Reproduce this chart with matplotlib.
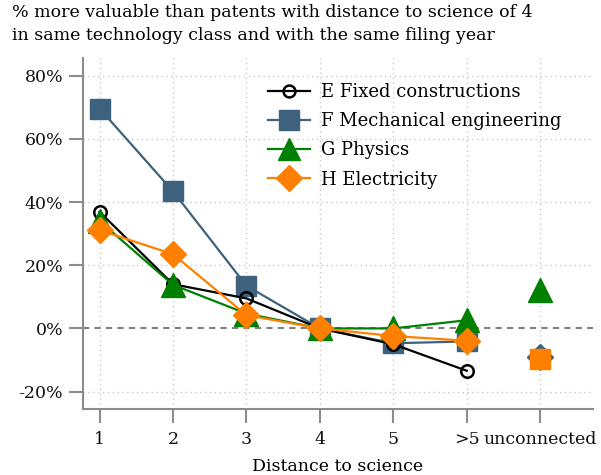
import matplotlib
matplotlib.use("Agg")
import matplotlib.pyplot as plt
from matplotlib.lines import Line2D

plt.rcParams['font.family'] = ['DejaVu Serif']

x_labels = ['1', '2', '3', '4', '5', '>5', 'unconnected']
x_conn = [1, 2, 3, 4, 5, 6]
x_unc = 7

series_names = ['E Fixed constructions', 'F Mechanical engineering', 'G Physics', 'H Electricity']
E_vals = [36.9, 14.0, 9.5, 0.0, -5.0, -13.4]
F_vals = [69.6, 43.4, 13.5, 0.0, -4.7, -4.1]
G_vals = [34.0, 13.8, 4.7, 0.0, 0.0, 2.6]
H_vals = [31.1, 23.5, 4.2, 0.0, -2.4, -3.9]
unconnected_vals = [-8.0, -9.0, 12.1, -9.7]

colors = ['black', '#3e627d', '#008000', '#ff8000']

fig = plt.figure(figsize=(6.01, 4.75), dpi=100)
ax = fig.add_axes([82.7/601, 1-409/475, (593-82.7)/601, (409-58)/475])

gray = '#8c8c8c'
for yv in [-20, 20, 40, 60, 80]:
    ax.axhline(yv, color='#c8c8c8', lw=1.0, ls=(0, (1, 2.5)), zorder=0)
for xv in range(1, 8):
    ax.axvline(xv, color='#c8c8c8', lw=1.0, ls=(0, (1, 2.5)), zorder=0)
ax.axhline(0, color='#808080', lw=1.5, ls=(0, (3, 2.5)), zorder=1)

ax.plot(x_conn, E_vals, color=colors[0], lw=1.6, marker='o', ms=9, mfc='none',
        mec=colors[0], mew=1.8, zorder=3)
ax.plot(x_conn, F_vals, color=colors[1], lw=1.6, marker='s', ms=15, mfc=colors[1],
        mec=colors[1], zorder=2)
ax.plot(x_conn, G_vals, color=colors[2], lw=1.6, marker='^', ms=17, mfc=colors[2],
        mec=colors[2], zorder=4)
ax.plot(x_conn, H_vals, color=colors[3], lw=1.6, marker='D', ms=13.5, mfc=colors[3],
        mec=colors[3], zorder=5)

ax.plot([x_unc], [unconnected_vals[0]], ls='none', marker='o', ms=9, mfc='none',
        mec=colors[0], mew=1.8, zorder=3)
ax.plot([x_unc], [unconnected_vals[1]], ls='none', marker='D', ms=13.5, mfc=colors[1],
        mec=colors[1], zorder=3.5)
ax.plot([x_unc], [unconnected_vals[2]], ls='none', marker='^', ms=17, mfc=colors[2],
        mec=colors[2], zorder=4)
ax.plot([x_unc], [unconnected_vals[3]], ls='none', marker='s', ms=15, mfc=colors[3],
        mec=colors[3], zorder=5)

ax.set_xlim(0.77, 7.72)
ax.set_ylim(-25.5, 85.6)
ax.set_xticks(range(1, 8))
ax.set_xticklabels(x_labels)
yt = [-20, 0, 20, 40, 60, 80]
ax.set_yticks(yt)
ax.set_yticklabels([f'{v}%' for v in yt])
ax.tick_params(axis='both', colors=gray, labelcolor='#111111', labelsize=12.5,
               length=10, width=1.5, direction='out')
ax.tick_params(axis='x', pad=6)
ax.tick_params(axis='y', pad=4)
for s in ['top', 'right']:
    ax.spines[s].set_visible(False)
for s in ['left', 'bottom']:
    ax.spines[s].set_color(gray)
    ax.spines[s].set_linewidth(1.5)

ax.set_xlabel('Distance to science', fontsize=12.5, labelpad=7)

fig.text(12/601, 1-4/475, '% more valuable than patents with distance to science of 4\n'
         'in same technology class and with the same filing year',
         ha='left', va='top', fontsize=12.5, linespacing=1.45)

handles = [
    Line2D([], [], color=colors[0], lw=1.6, marker='o', ms=9, mfc='none', mec=colors[0], mew=1.8),
    Line2D([], [], color=colors[1], lw=1.6, marker='s', ms=15, mfc=colors[1], mec=colors[1]),
    Line2D([], [], color=colors[2], lw=1.6, marker='^', ms=17, mfc=colors[2], mec=colors[2]),
    Line2D([], [], color=colors[3], lw=1.6, marker='D', ms=13.5, mfc=colors[3], mec=colors[3]),
]
leg = fig.legend(handles, series_names, loc='upper left',
                 bbox_to_anchor=(268/601, 1-83/475), frameon=False, fontsize=13,
                 handlelength=2.3, handletextpad=0.65, labelspacing=0.62,
                 borderpad=0, borderaxespad=0, markerscale=0.95)

fig.savefig('out.png', dpi=100)
